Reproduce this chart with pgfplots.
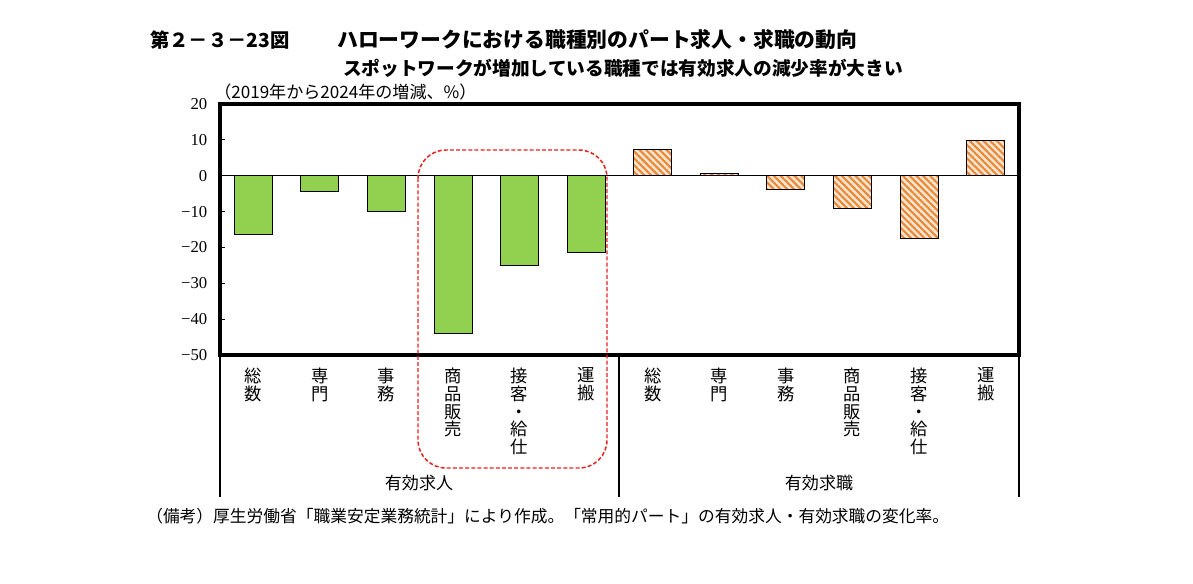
\documentclass[border=0pt]{standalone}
\usepackage{fontspec}
\setmainfont{Liberation Serif}
\newfontfamily\jp{Noto Sans CJK JP}
\usepackage{pgfplots}
\pgfplotsset{compat=1.18}
\usetikzlibrary{patterns.meta}
\definecolor{barg}{HTML}{92D050}
\definecolor{hatchfg}{HTML}{E5893A}
\definecolor{hatchbg}{HTML}{FBE3CC}
\definecolor{boxred}{HTML}{E8201E}
\tikzdeclarepattern{
  name=stripes, type=uncolored,
  bottom left={(0pt,-0.8pt)}, top right={(3.6pt,0.8pt)},
  tile size={(3.6pt,3.6pt)}, tile transformation={rotate=-45},
  code={\draw[line width=1.6pt] (-0.1pt,0pt) -- (3.7pt,0pt);}
}

\begin{document}
\begin{tikzpicture}
\begin{axis}[
    at={(165pt,-266.25pt)}, anchor=south west,
    scale only axis,
    width=599.25pt, height=188.25pt,
    ybar, bar width=28.5pt, bar shift=0pt,
    xmin=-0.5, xmax=11.5,
    ymin=-50, ymax=20,
    xtick={0,...,11},
    xticklabels={{総\\数},{専\\門},{事\\務},{商\\品\\販\\売},{接\\客\\・\\給\\仕},{運\\搬},
                 {総\\数},{専\\門},{事\\務},{商\\品\\販\\売},{接\\客\\・\\給\\仕},{運\\搬}},
    xticklabel style={align=center, anchor=north, yshift=-6pt,
        font={\jp\fontsize{13pt}{13.4pt}\selectfont}},
    xtick style={draw=none},
    ytick={-50,-40,-30,-20,-10,0,10,20},
    yticklabels={−50,−40,−30,−20,−10,0,10,20},
    yticklabel style={anchor=east, xshift=-6pt, font=\fontsize{12.5pt}{14pt}\selectfont},
    ytick pos=left, tick align=inside,
    major tick length=4pt,
    ytick style={black, line width=0.8pt},
    clip=false,
]
\addplot[fill=barg, draw=black, line width=0.8pt] coordinates {
    (0,-16.3) (1,-4.4) (2,-9.9) (3,-43.9) (4,-25.0) (5,-21.4)};
\addplot[fill=hatchbg, draw=black, line width=0.8pt,
    postaction={pattern=stripes, pattern color=hatchfg}] coordinates {
    (6,7.4) (7,0.7) (8,-3.8) (9,-9.1) (10,-17.4) (11,9.9)};
\draw[black, line width=0.8pt] (axis cs:-0.5,0) -- (axis cs:11.5,0);
\draw[black, line width=2.8pt] (rel axis cs:0,0) rectangle (rel axis cs:1,1);
\end{axis}

\begin{scope}[x=0.75pt, y=-0.75pt]
\path[use as bounding box] (0,0) rectangle (1193,583);
% group separators
\draw[line width=1.1pt] (220,355) -- (220,497);
\draw[line width=1.1pt] (619,355) -- (619,497);
\draw[line width=1.1pt] (1019,355) -- (1019,497);
% highlight box
\draw[boxred, line width=1.1pt, dash pattern=on 3pt off 1.6pt, rounded corners=21pt]
    (418,150) rectangle (607,468);
% texts
\node[anchor=west, inner sep=0pt, font=\jp\bfseries\fontsize{14.5pt}{16pt}\selectfont]
    at (150,40) {第２－３－23図};
\node[anchor=west, inner sep=0pt, font=\jp\bfseries\fontsize{15.6pt}{17pt}\selectfont]
    at (337,40) {ハローワークにおける職種別のパート求人・求職の動向};
\node[anchor=west, inner sep=0pt, font=\jp\bfseries\fontsize{14pt}{16pt}\selectfont]
    at (343,68) {スポットワークが増加している職種では有効求人の減少率が大きい};
\node[anchor=west, inner sep=0pt, font=\jp\fontsize{12.8pt}{14pt}\selectfont]
    at (214,92) {（2019年から2024年の増減、\%）};
\node[inner sep=0pt, font=\jp\fontsize{12.8pt}{14pt}\selectfont] at (419,483) {有効求人};
\node[inner sep=0pt, font=\jp\fontsize{12.8pt}{14pt}\selectfont] at (819,483) {有効求職};
\node[anchor=west, inner sep=0pt, font=\jp\fontsize{12.55pt}{14pt}\selectfont]
    at (146,516) {（備考）厚生労働省「職業安定業務統計」により作成。「常用的パート」の有効求人・有効求職の変化率。};
\end{scope}
\end{tikzpicture}
\end{document}
